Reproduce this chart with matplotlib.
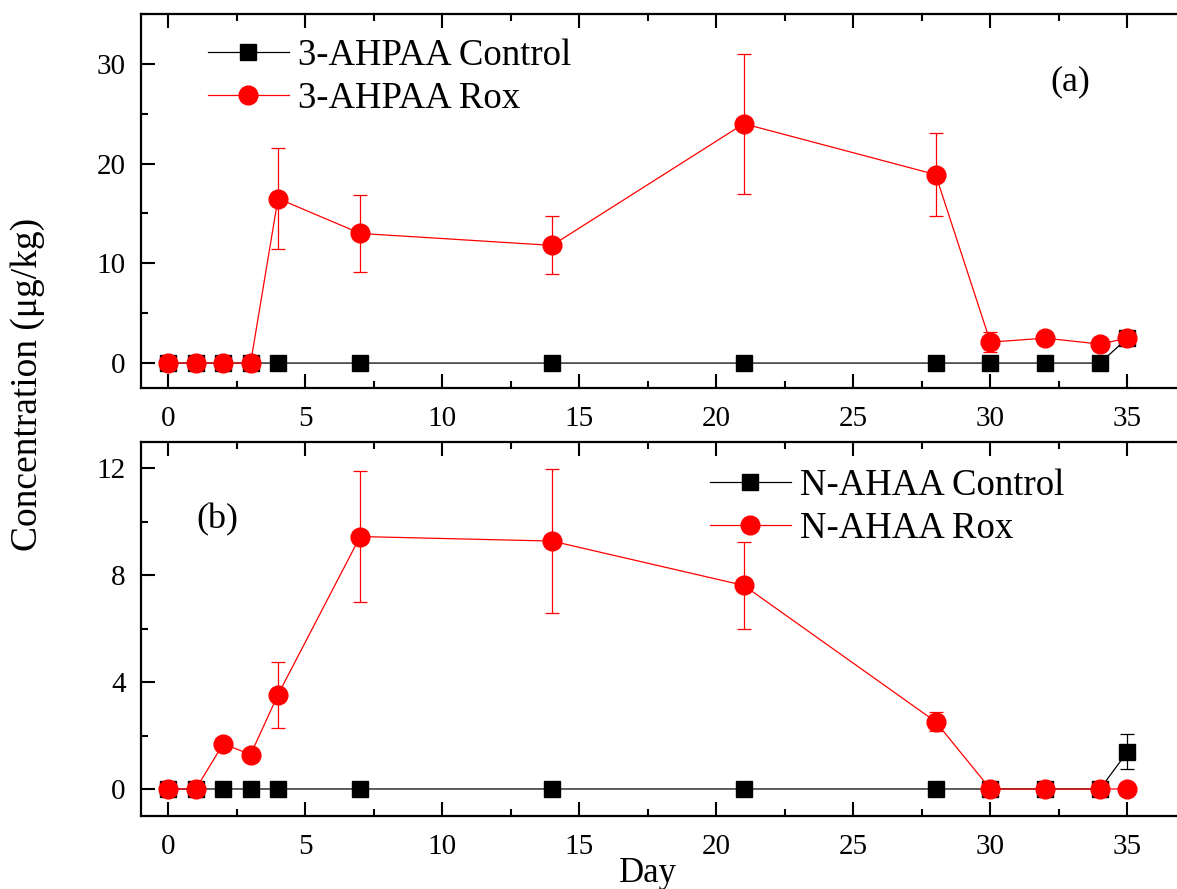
import matplotlib.pyplot as plt
from matplotlib.ticker import MultipleLocator

plt.rcParams['font.family'] = ['Liberation Serif', 'DejaVu Serif']

# sampling days
days = [0, 1, 2, 3, 4, 7, 14, 21, 28, 30, 32, 34, 35]

# (a) 3-AHPAA
ahpaa_ctrl = [0, 0, 0, 0, 0, 0, 0, 0, 0, 0, 0, 0, 2.5]
ahpaa_ctrl_err = [0, 0, 0, 0, 0, 0, 0, 0, 0, 0, 0, 0, 0]
ahpaa_rox = [0, 0, 0, 0, 16.5, 13.0, 11.8, 24.0, 18.9, 2.1, 2.5, 1.9, 2.5]
ahpaa_rox_err = [0, 0, 0, 0, 5.1, 3.9, 2.9, 7.0, 4.2, 1.0, 0, 0, 0]

# (b) N-AHAA
nahaa_ctrl = [0, 0, 0, 0, 0, 0, 0, 0, 0, 0, 0, 0, 1.39]
nahaa_ctrl_err = [0, 0, 0, 0, 0, 0, 0, 0, 0, 0, 0, 0, 0.66]
nahaa_rox = [0, 0, 1.69, 1.29, 3.53, 9.45, 9.28, 7.62, 2.52, 0, 0, 0, 0]
nahaa_rox_err = [0, 0, 0, 0, 1.23, 2.44, 2.68, 1.62, 0.36, 0, 0, 0, 0]

W, H = 1177, 889
fig = plt.figure(figsize=(W / 100, H / 100), dpi=100)
pxday = 27.4
ax1 = fig.add_axes([141 / W, 1 - 388 / H, 39 * pxday / W, (388 - 14) / H])
ax2 = fig.add_axes([141 / W, 1 - 815.7 / H, 39 * pxday / W, (815.7 - 441.7) / H])

legend_pos = {'3-AHPAA': (208 / W, 1 - 77 / H), 'N-AHAA': (710 / W, 1 - 507 / H)}


def draw(ax, ctrl, ctrl_err, rox, rox_err, lab):
    # error bars drawn apart so legend shows only line + marker
    ax.errorbar(days, ctrl, yerr=ctrl_err, fmt='none', ecolor='black',
                elinewidth=0.9, capsize=4.7, capthick=0.9, zorder=1.5)
    ax.plot(days, ctrl, color='black', marker='s', ms=11.5, mec='black',
            lw=0.9, label=lab + ' Control', zorder=2)
    ax.errorbar(days, rox, yerr=rox_err, fmt='none', ecolor='red',
                elinewidth=0.9, capsize=4.7, capthick=0.9, zorder=2.5)
    ax.plot(days, rox, color='red', marker='o', ms=13.5, mec='red',
            lw=0.9, label=lab + ' Rox', zorder=3)
    ax.set_xlim(-1, 38)
    ax.xaxis.set_major_locator(MultipleLocator(5))
    ax.xaxis.set_minor_locator(MultipleLocator(2.5))
    ax.tick_params(which='both', direction='in', top=True, right=False,
                   labelsize=21, width=1.5)
    ax.tick_params(which='major', length=10)
    ax.tick_params(which='minor', length=5)
    ax.tick_params(axis='x', which='both', pad=13)
    ax.tick_params(axis='y', which='both', pad=11)
    for s in ax.spines.values():
        s.set_linewidth(1.6)
    ax.legend(loc='center left', frameon=False, fontsize=26.5,
              handlelength=2.2, handletextpad=0.25, labelspacing=0.22,
              borderpad=0, borderaxespad=0, bbox_transform=fig.transFigure,
              bbox_to_anchor=legend_pos[lab])


draw(ax1, ahpaa_ctrl, ahpaa_ctrl_err, ahpaa_rox, ahpaa_rox_err, '3-AHPAA')
ax1.set_ylim(-2.5, 35)
ax1.yaxis.set_major_locator(MultipleLocator(10))
ax1.yaxis.set_minor_locator(MultipleLocator(5))
fig.text(1070 / W, 1 - 82 / H, '(a)', fontsize=26, ha='center', va='center')

draw(ax2, nahaa_ctrl, nahaa_ctrl_err, nahaa_rox, nahaa_rox_err, 'N-AHAA')
ax2.set_ylim(-1, 13)
ax2.yaxis.set_major_locator(MultipleLocator(4))
ax2.yaxis.set_minor_locator(MultipleLocator(2))
fig.text(217 / W, 1 - 520 / H, '(b)', fontsize=26, ha='center', va='center')

fig.text(37 / W, 1 - 384 / H, 'Concentration (μg/kg)', rotation=90,
         rotation_mode='anchor', fontsize=27, ha='center', va='baseline')
fig.text(648 / W, 1 - 882 / H, 'Day', fontsize=25, ha='center', va='baseline')

fig.savefig('out.png', dpi=100)
